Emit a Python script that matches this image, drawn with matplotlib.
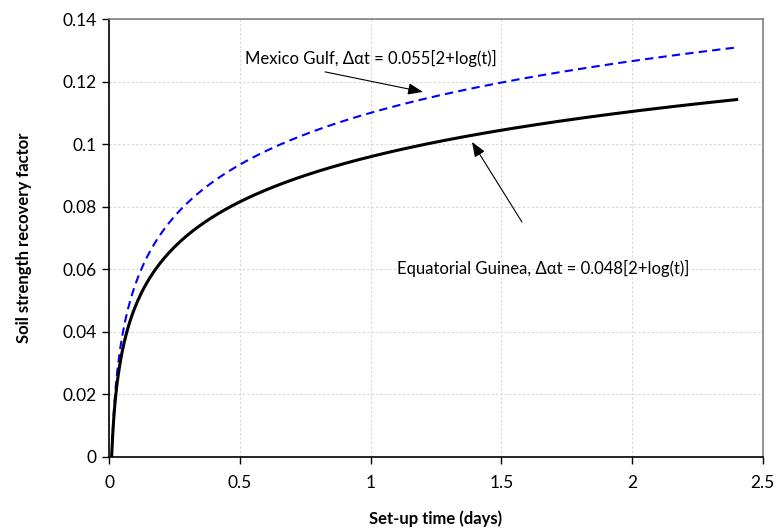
import matplotlib

matplotlib.use("Agg")
import matplotlib.pyplot as plt
import numpy as np
from matplotlib.ticker import FuncFormatter, MultipleLocator

plt.rcParams["font.family"] = ["Lato", "DejaVu Sans"]

# set-up correlations: delta_alpha_t = coef * [2 + log10(t)], t in days
SITES = ["Mexico Gulf", "Equatorial Guinea"]
COEFS = [0.055, 0.048]
T_START = 0.01
T_END = 2.4
COLORS = ["#0000ff", "#000000"]

t = np.linspace(T_START, T_END, 600)

fig = plt.figure(figsize=(7.76, 5.28), dpi=100)
ax = fig.add_axes([0.1405, 0.1345, 0.8425, 0.8295])

mexico = COEFS[0] * (2 + np.log10(t))
guinea = COEFS[1] * (2 + np.log10(t))
ax.plot(t, mexico, color=COLORS[0], lw=1.5, ls=(0, (4, 2.5)), zorder=3)
ax.plot(t, guinea, color=COLORS[1], lw=2.2, zorder=4)

ax.set_xlim(0, 2.5)
ax.set_ylim(0, 0.14)
ax.xaxis.set_major_locator(MultipleLocator(0.5))
ax.yaxis.set_major_locator(MultipleLocator(0.02))
fmt = FuncFormatter(lambda v, _: f"{v:.2f}".rstrip("0").rstrip(".") if v else "0")
ax.xaxis.set_major_formatter(fmt)
ax.yaxis.set_major_formatter(fmt)
ax.tick_params(direction="out", length=5, width=1, labelsize=12.5, colors="#000000")
ax.tick_params(axis="x", pad=8)
ax.tick_params(axis="y", pad=4)

ax.grid(True, color="#d6d6d6", ls=(0, (2, 2)), lw=0.8)
ax.set_axisbelow(True)
for side in ("left", "bottom"):
    ax.spines[side].set_color("#000000")
    ax.spines[side].set_linewidth(1.2)
for side in ("top", "right"):
    ax.spines[side].set_color("#808080")
    ax.spines[side].set_linewidth(1.2)

ax.set_xlabel("Set-up time (days)", fontsize=12, fontweight="bold", labelpad=14)
ax.set_ylabel("Soil strength recovery factor", fontsize=12, fontweight="bold", labelpad=22)

arrow = dict(arrowstyle="-|>,head_length=0.9,head_width=0.35", color="#000000", lw=0.8,
             shrinkA=0, shrinkB=0)
ax.text(0.52, 0.1275, f"{SITES[0]}, \u0394\u03b1t = {COEFS[0]}[2+log(t)]",
        fontsize=12, va="center", ha="left")
ax.annotate("", xy=(1.20, 0.1167), xytext=(0.826, 0.1231), arrowprops=arrow)
ax.text(1.10, 0.0604, f"{SITES[1]}, \u0394\u03b1t = {COEFS[1]}[2+log(t)]",
        fontsize=12, va="center", ha="left")
ax.annotate("", xy=(1.388, 0.1007), xytext=(1.579, 0.0751), arrowprops=arrow)

fig.savefig("out.png", dpi=100)
